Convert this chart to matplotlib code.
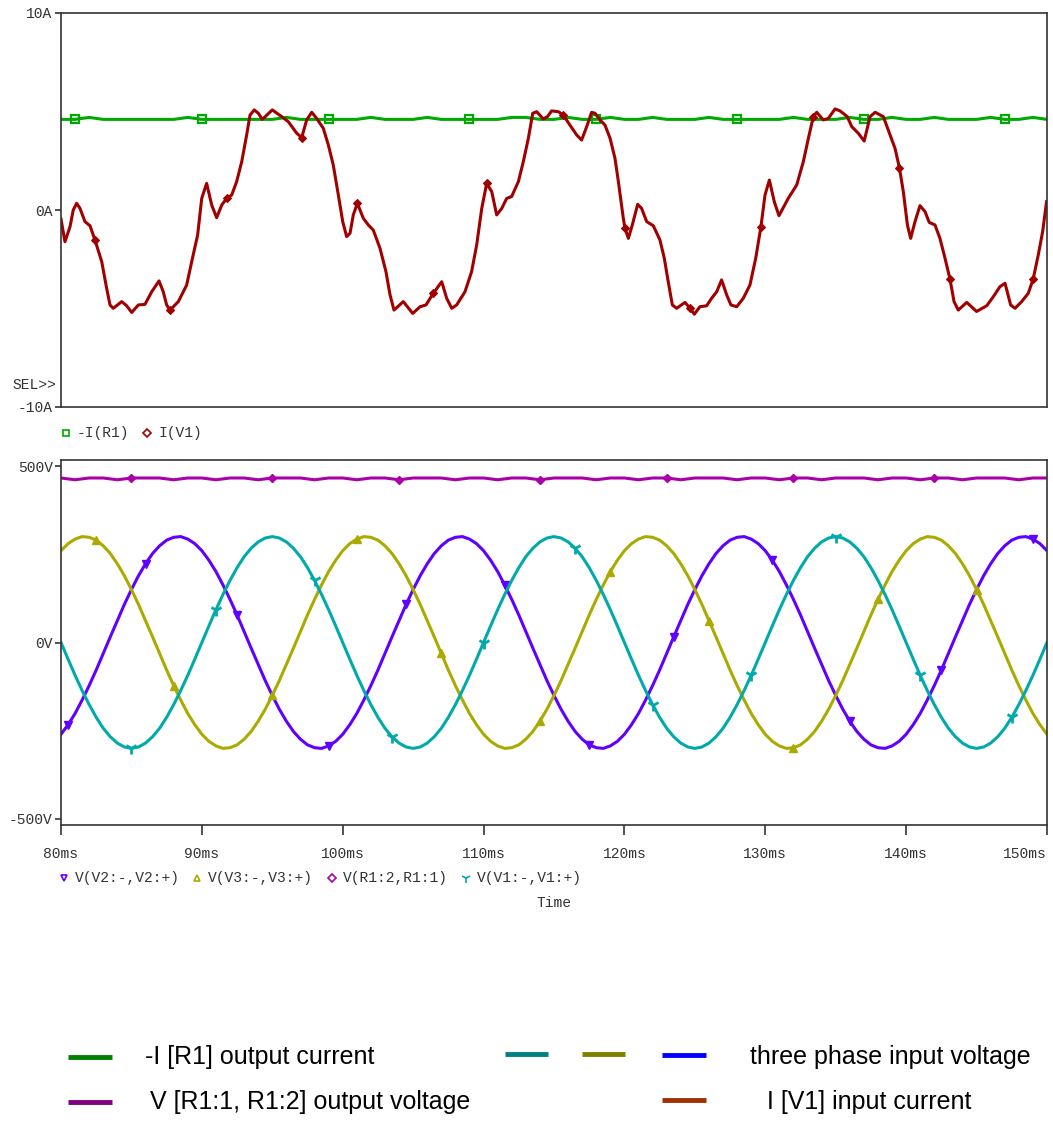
import matplotlib.pyplot as plt
from matplotlib.lines import Line2D
import numpy as np

W, H = 1053, 1131
MONO = 'Liberation Mono'
INK = '#333333'

# ---------------------------------------------------------------------------
# simulation traces, 80 ms .. 150 ms
# ---------------------------------------------------------------------------
t_ms = np.arange(80, 151)            # 1 ms steps for the DC side
t_ac = np.arange(160, 301) / 2.0     # 0.5 ms steps for the sources

# -I(R1): output current (A)
i_r1 = [4.60, 4.60, 4.70, 4.60, 4.60, 4.60, 4.60, 4.60, 4.60, 4.70,
        4.60, 4.60, 4.60, 4.60, 4.60, 4.60, 4.70, 4.60, 4.60, 4.60,
        4.60, 4.60, 4.70, 4.60, 4.60, 4.60, 4.70, 4.60, 4.60, 4.60,
        4.60, 4.60, 4.70, 4.70, 4.60, 4.60, 4.70, 4.60, 4.60, 4.70,
        4.60, 4.60, 4.70, 4.60, 4.60, 4.60, 4.70, 4.60, 4.60, 4.60,
        4.60, 4.60, 4.70, 4.60, 4.60, 4.60, 4.70, 4.60, 4.60, 4.70,
        4.60, 4.60, 4.70, 4.60, 4.60, 4.60, 4.70, 4.60, 4.60, 4.70,
        4.60]

# V(R1:2,R1:1): output voltage (V)
v_r1 = [466, 461, 466, 466, 461, 466, 466, 466, 461, 466,
        466, 461, 466, 466, 461, 466, 466, 466, 461, 466,
        466, 461, 466, 466, 461, 466, 466, 466, 461, 466,
        466, 461, 466, 466, 461, 466, 466, 466, 461, 466,
        466, 461, 466, 466, 461, 466, 466, 466, 461, 466,
        466, 461, 466, 466, 461, 466, 466, 466, 461, 466,
        466, 461, 466, 466, 461, 466, 466, 466, 461, 466,
        466]

# V(V2:-,V2:+), one 20 ms cycle per row
v_v2 = [-260, -233, -201, -163, -122, -78, -31, 16, 62, 108,
        150, 189, 223, 252, 274, 290, 298, 300, 293, 280,
        260, 233, 201, 163, 122, 78, 31, -16, -62, -108,
        -150, -189, -223, -252, -274, -290, -298, -300, -293, -280,
        -260, -233, -201, -163, -122, -78, -31, 16, 62, 108,
        150, 189, 223, 252, 274, 290, 298, 300, 293, 280,
        260, 233, 201, 163, 122, 78, 31, -16, -62, -108,
        -150, -189, -223, -252, -274, -290, -298, -300, -293, -280,
        -260, -233, -201, -163, -122, -78, -31, 16, 62, 108,
        150, 189, 223, 252, 274, 290, 298, 300, 293, 280,
        260, 233, 201, 163, 122, 78, 31, -16, -62, -108,
        -150, -189, -223, -252, -274, -290, -298, -300, -293, -280,
        -260, -233, -201, -163, -122, -78, -31, 16, 62, 108,
        150, 189, 223, 252, 274, 290, 298, 300, 293, 280,
        260]

# V(V3:-,V3:+)
v_v3 = [260, 280, 293, 300, 298, 290, 274, 252, 223, 189,
        150, 108, 62, 16, -31, -78, -122, -163, -201, -233,
        -260, -280, -293, -300, -298, -290, -274, -252, -223, -189,
        -150, -108, -62, -16, 31, 78, 122, 163, 201, 233,
        260, 280, 293, 300, 298, 290, 274, 252, 223, 189,
        150, 108, 62, 16, -31, -78, -122, -163, -201, -233,
        -260, -280, -293, -300, -298, -290, -274, -252, -223, -189,
        -150, -108, -62, -16, 31, 78, 122, 163, 201, 233,
        260, 280, 293, 300, 298, 290, 274, 252, 223, 189,
        150, 108, 62, 16, -31, -78, -122, -163, -201, -233,
        -260, -280, -293, -300, -298, -290, -274, -252, -223, -189,
        -150, -108, -62, -16, 31, 78, 122, 163, 201, 233,
        260, 280, 293, 300, 298, 290, 274, 252, 223, 189,
        150, 108, 62, 16, -31, -78, -122, -163, -201, -233,
        -260]

# V(V1:-,V1:+)
v_v1 = [0, -47, -93, -136, -176, -212, -243, -267, -285, -296,
        -300, -296, -285, -267, -243, -212, -176, -136, -93, -47,
        0, 47, 93, 136, 176, 212, 243, 267, 285, 296,
        300, 296, 285, 267, 243, 212, 176, 136, 93, 47,
        0, -47, -93, -136, -176, -212, -243, -267, -285, -296,
        -300, -296, -285, -267, -243, -212, -176, -136, -93, -47,
        0, 47, 93, 136, 176, 212, 243, 267, 285, 296,
        300, 296, 285, 267, 243, 212, 176, 136, 93, 47,
        0, -47, -93, -136, -176, -212, -243, -267, -285, -296,
        -300, -296, -285, -267, -243, -212, -176, -136, -93, -47,
        0, 47, 93, 136, 176, 212, 243, 267, 285, 296,
        300, 296, 285, 267, 243, 212, 176, 136, 93, 47,
        0, -47, -93, -136, -176, -212, -243, -267, -285, -296,
        -300, -296, -285, -267, -243, -212, -176, -136, -93, -47,
        0]

# I(V1): input current, taken at its turning points (ms, A)
i_v1_t = [80.00, 80.28, 80.64, 80.87, 81.11, 81.35, 81.70, 82.06, 82.41, 82.89,
          83.24, 83.48, 83.71, 84.31, 84.66, 85.02, 85.49, 85.96, 86.44, 86.96,
          87.26, 87.50, 87.74, 88.33, 88.92, 89.28, 89.70, 89.99, 90.34, 90.70,
          91.05, 91.41, 91.76, 92.12, 92.47, 92.83, 93.18, 93.42, 93.72, 94.01,
          94.29, 95.00, 95.67, 96.14, 96.73, 97.09, 97.44, 97.80, 98.15, 98.62,
          98.98, 99.33, 99.69, 100.00, 100.28, 100.52, 100.75, 101.04, 101.46, 101.82,
          102.17, 102.65, 103.07, 103.36, 103.64, 104.30, 104.97, 105.49, 105.91, 106.43,
          107.03, 107.38, 107.74, 108.09, 108.68, 109.15, 109.51, 109.87, 110.22, 110.58,
          110.93, 111.29, 111.64, 111.99, 112.47, 112.82, 113.18, 113.49, 113.77, 114.24,
          114.55, 114.83, 115.31, 115.66, 116.13, 116.61, 116.96, 117.32, 117.67, 117.91,
          118.27, 118.62, 118.98, 119.33, 119.57, 119.92, 120.04, 120.28, 120.56, 120.94,
          121.22, 121.58, 122.05, 122.52, 122.83, 123.11, 123.40, 123.71, 124.30, 124.66,
          124.96, 125.36, 125.84, 126.19, 126.55, 126.90, 127.26, 127.56, 127.97, 128.44,
          128.91, 129.32, 129.69, 129.98, 130.29, 130.64, 130.97, 131.63, 132.23, 132.70,
          133.06, 133.41, 133.65, 134.12, 134.48, 134.95, 135.31, 135.82, 136.14, 136.61,
          137.02, 137.44, 137.80, 138.38, 138.86, 139.21, 139.52, 139.80, 140.09, 140.32,
          140.63, 140.98, 141.34, 141.64, 142.05, 142.40, 142.76, 143.11, 143.40, 143.70,
          144.30, 145.00, 145.72, 146.19, 146.66, 147.02, 147.42, 147.73, 148.20, 148.67,
          149.02, 149.38, 149.69, 149.97]
i_v1 = [-0.46, -1.61, -0.85, 0.00, 0.34, 0.08, -0.59, -0.80, -1.52, -2.62,
        -3.97, -4.82, -4.99, -4.65, -4.86, -5.20, -4.82, -4.79, -4.15, -3.60,
        -4.15, -4.82, -5.08, -4.65, -3.81, -2.62, -1.27, 0.59, 1.35, 0.25,
        -0.39, 0.25, 0.59, 0.76, 1.44, 2.45, 3.81, 4.82, 5.08, 4.91,
        4.60, 5.08, 4.74, 4.48, 3.90, 3.68, 4.57, 4.96, 4.65, 4.15,
        3.30, 2.28, 0.76, -0.59, -1.35, -1.18, -0.25, 0.34, -0.42, -0.76,
        -1.02, -1.95, -3.13, -4.31, -5.08, -4.65, -5.25, -4.91, -4.82, -4.23,
        -3.64, -4.48, -4.99, -4.82, -4.15, -3.13, -1.78, 0.08, 1.35, 0.93,
        -0.25, 0.08, 0.59, 0.68, 1.44, 2.45, 3.64, 4.91, 4.99, 4.62,
        4.75, 5.03, 4.99, 4.82, 4.31, 3.81, 3.55, 4.23, 4.96, 4.91,
        4.57, 4.31, 3.64, 2.62, 1.44, -0.42, -0.93, -1.44, -0.76, 0.29,
        0.08, -0.59, -0.80, -1.52, -2.45, -3.64, -4.82, -4.99, -4.69, -4.99,
        -5.29, -4.91, -4.86, -4.48, -4.15, -3.55, -4.31, -4.82, -4.91, -4.48,
        -3.81, -2.45, -0.85, 0.76, 1.52, 0.42, -0.29, 0.59, 1.27, 2.45,
        3.64, 4.74, 4.96, 4.57, 4.65, 5.13, 5.03, 4.74, 4.23, 3.89,
        3.50, 4.74, 4.96, 4.74, 3.81, 3.13, 2.15, 0.93, -0.76, -1.44,
        -0.59, 0.22, -0.08, -0.63, -0.76, -1.44, -2.45, -3.50, -4.65, -5.08,
        -4.69, -5.15, -4.86, -4.40, -3.89, -3.72, -4.82, -4.99, -4.65, -4.23,
        -3.50, -2.28, -1.10, 0.42]

# symbol positions along each trace (ms)
mark_i_r1 = [81, 90, 99, 109, 118, 128, 137, 147]
mark_i_v1 = [82.41, 87.74, 91.76, 97.09, 101.04, 106.43, 110.22, 115.66,
             120.04, 124.66, 129.69, 133.41, 139.52, 143.11, 149.02]
mark_v2 = [80.5, 86, 92.5, 99, 104.5, 111.5, 117.5, 123.5, 130.5, 136, 142.5, 149]
mark_v3 = [82.5, 88, 95, 101, 107, 114, 119, 126, 132, 138, 145]
mark_r1 = [85, 95, 104, 114, 123, 132, 142]
mark_v1 = [85, 91, 98, 103.5, 110, 116.5, 122, 129, 135, 141, 147.5]

GREEN, RED = '#00AA00', '#A00000'
PURPLE, OLIVE, MAGENTA, CYAN = '#6000FF', '#AAAA00', '#AA00AA', '#00AAAA'


def fx(x):
    return x / W


def fy(y):
    return 1 - y / H


def idx(grid, times):
    return [int(np.argmin(np.abs(grid - t))) for t in times]


def style_axes(ax):
    for s in ax.spines.values():
        s.set_color(INK)
        s.set_linewidth(1.2)
    ax.set_xlim(80, 150)
    ax.tick_params(axis='y', direction='out', length=4.5, width=1.2, color=INK,
                   pad=1.5, labelsize=10.5, labelcolor=INK)
    for lab in ax.get_yticklabels():
        lab.set_fontfamily(MONO)


fig = plt.figure(figsize=(W / 100, H / 100), dpi=100)

# ---- currents ----
ax1 = fig.add_axes([fx(61), fy(407), 986 / W, 394 / H])
ax1.plot(t_ms, i_r1, color=GREEN, lw=2.2, marker='s', ms=5.5, mfc='none',
         mew=1.6, markevery=idx(t_ms, mark_i_r1))
red_mask = np.isin(i_v1_t, mark_i_v1)
ax1.plot(i_v1_t, i_v1, color=RED, lw=2.2, marker='D', ms=4.5, mew=0.8,
         markevery=list(np.nonzero(red_mask)[0]))
ax1.set_ylim(-10, 10)
ax1.set_yticks([-10, 0, 10], ['-10A', '0A', '10A'])
ax1.set_xticks([])
style_axes(ax1)

# ---- voltages ----
ax2 = fig.add_axes([fx(61), fy(825), 986 / W, 365 / H])
ax2.plot(t_ac, v_v2, color=PURPLE, lw=2.2, marker='v', ms=5.5,
         markevery=idx(t_ac, mark_v2))
ax2.plot(t_ac, v_v3, color=OLIVE, lw=2.2, marker='^', ms=5.5,
         markevery=idx(t_ac, mark_v3))
ax2.plot(t_ms, v_r1, color=MAGENTA, lw=2.2, marker='D', ms=4.5,
         markevery=idx(t_ms, mark_r1))
ax2.plot(t_ac, v_v1, color=CYAN, lw=2.2, marker='1', ms=9, mew=2,
         markevery=idx(t_ac, mark_v1))
ax2.set_ylim(-517, 517)
ax2.set_yticks([-500, 0, 500], ['-500V', '0V', '500V'])
ax2.set_xticks(np.arange(80, 151, 10), [f'{v}ms' for v in range(80, 151, 10)])
style_axes(ax2)
ax2.tick_params(axis='x', direction='out', length=7, width=1.2, color=INK,
                pad=9, labelsize=10.5, labelcolor=INK)
for lab in ax2.get_xticklabels():
    lab.set_fontfamily(MONO)
ax2.get_xticklabels()[-1].set_horizontalalignment('right')

# ---- probe-window annotations ----
fig.text(fx(12), fy(385), 'SEL>>', family=MONO, size=10.5, color=INK, va='center')
fig.text(fx(554), fy(903), 'Time', family=MONO, size=10.5, color=INK,
         ha='center', va='center')


def probe_key(x, y, marker, color, label, ms=5):
    fig.add_artist(Line2D([fx(x)], [fy(y)], marker=marker, color=color, ms=ms,
                          mfc='none', mew=1.2, transform=fig.transFigure))
    fig.text(fx(x + 11), fy(y), label, family=MONO, size=10.5, color=INK, va='center')


probe_key(66, 433, 's', GREEN, '-I(R1)', ms=4.5)
probe_key(147, 433, 'D', RED, 'I(V1)', ms=4)
probe_key(64, 878, 'v', PURPLE, 'V(V2:-,V2:+)')
probe_key(197, 878, '^', OLIVE, 'V(V3:-,V3:+)')
probe_key(332, 878, 'D', MAGENTA, 'V(R1:2,R1:1)', ms=4)
probe_key(466, 878, '1', CYAN, 'V(V1:-,V1:+)', ms=7)

# ---- explanatory key ----
SANS = 'Liberation Sans'


def key_line(x0, x1, y, color):
    fig.add_artist(Line2D([fx(x0), fx(x1)], [fy(y), fy(y)], color=color, lw=3.5,
                          solid_capstyle='butt', transform=fig.transFigure))


key_line(68, 112, 1057, '#008000')
fig.text(fx(145), fy(1057), '-I [R1] output current', family=SANS, size=18, va='center')
key_line(505, 548, 1054, '#008080')
key_line(582, 625, 1054, '#808000')
key_line(662, 706, 1055, '#0000FF')
fig.text(fx(750), fy(1057), 'three phase input voltage', family=SANS, size=18, va='center')

key_line(68, 112, 1102, '#800080')
fig.text(fx(150), fy(1102), 'V [R1:1, R1:2] output voltage', family=SANS, size=18,
         va='center')
key_line(662, 706, 1100, '#A03000')
fig.text(fx(767), fy(1102), 'I [V1] input current', family=SANS, size=18, va='center')

fig.savefig('out.png', dpi=100)
